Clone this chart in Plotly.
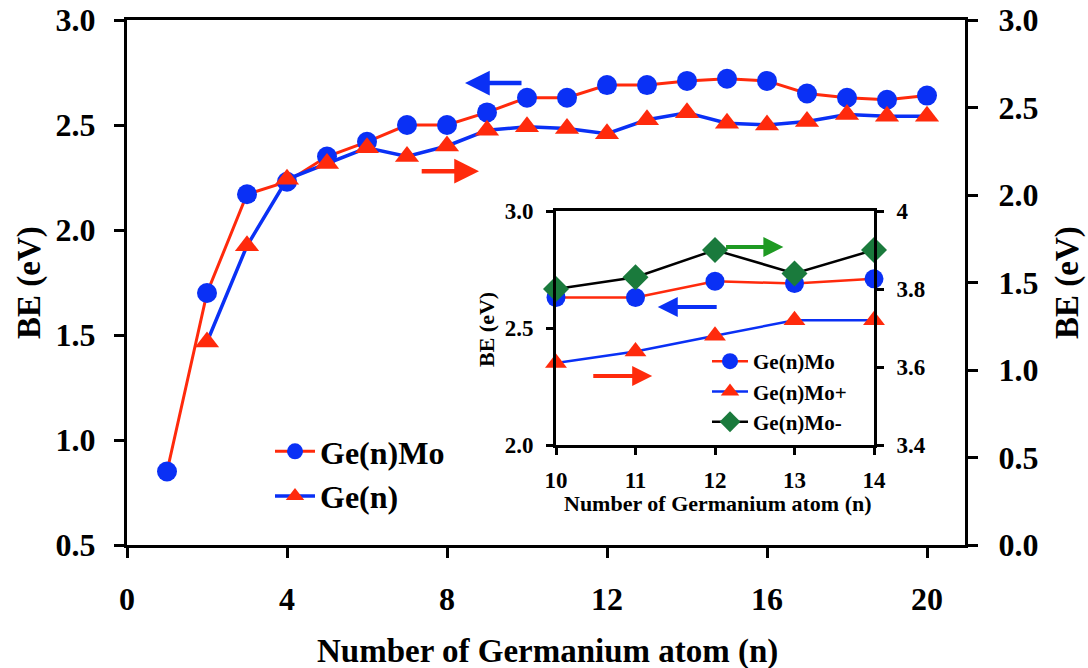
import plotly.graph_objects as go

# ---------------- data ----------------
n_main = [1, 2, 3, 4, 5, 6, 7, 8, 9, 10, 11, 12, 13, 14, 15, 16, 17, 18, 19, 20]
be_gen_mo = [0.85, 1.70, 2.17, 2.23, 2.35, 2.42, 2.50, 2.50, 2.56, 2.63,
             2.63, 2.69, 2.69, 2.71, 2.72, 2.71, 2.65, 2.63, 2.62, 2.64]
n_ge = [2, 3, 4, 5, 6, 7, 8, 9, 10, 11, 12, 13, 14, 15, 16, 17, 18, 19, 20]
be_gen = [1.16, 1.71, 2.09, 2.18, 2.27, 2.22, 2.28, 2.37, 2.39, 2.38,
          2.35, 2.43, 2.47, 2.41, 2.40, 2.42, 2.46, 2.45, 2.45]

n_inset = [10, 11, 12, 13, 14]
inset_gen_mo = [2.63, 2.63, 2.70, 2.69, 2.71]
inset_gen_mo_plus = [3.61, 3.64, 3.68, 3.72, 3.72]
inset_gen_mo_minus = [3.80, 3.83, 3.90, 3.84, 3.90]

left_ticks = [0.5, 1.0, 1.5, 2.0, 2.5, 3.0]
right_ticks = [0.0, 0.5, 1.0, 1.5, 2.0, 2.5, 3.0]
x_ticks = [0, 4, 8, 12, 16, 20]
inset_x_ticks = [10, 11, 12, 13, 14]
inset_left_ticks = [2.0, 2.5, 3.0]
inset_right_ticks = [3.4, 3.6, 3.8, 4.0]
inset_right_labels = ["3.4", "3.6", "3.8", "4"]

# ---------------- style ----------------
W, H = 1088, 668
BLUE = "#0a30f5"
RED = "#ff2a0c"
GREEN = "#1a7a3c"
ARROW_GREEN = "#1e9a22"
FONT = "Liberation Serif"


def px_x(p):
    return p / W


def px_y(p):
    return 1 - p / H


fig = go.Figure()

# main traces
fig.add_trace(go.Scatter(
    x=n_main, y=be_gen_mo, name="Ge(n)Mo", mode="lines+markers",
    line=dict(color=RED, width=3),
    marker=dict(symbol="circle", size=20, color=BLUE),
    xaxis="x", yaxis="y", legend="legend", legendgroup="a"))
fig.add_trace(go.Scatter(
    x=n_ge, y=be_gen, name="Ge(n)", mode="lines+markers",
    line=dict(color=BLUE, width=3.5),
    marker=dict(symbol="triangle-up", size=21, color=RED),
    xaxis="x", yaxis="y2", legend="legend", legendgroup="b"))

# inset traces
fig.add_trace(go.Scatter(
    x=n_inset, y=inset_gen_mo, name="Ge(n)Mo", mode="lines+markers",
    line=dict(color=RED, width=2.5),
    marker=dict(symbol="circle", size=19, color=BLUE), cliponaxis=False,
    xaxis="x2", yaxis="y3", legend="legend2", legendgroup="c"))
fig.add_trace(go.Scatter(
    x=n_inset, y=inset_gen_mo_plus, name="Ge(n)Mo+", mode="lines+markers",
    line=dict(color=BLUE, width=2.5),
    marker=dict(symbol="triangle-up", size=19, color=RED), cliponaxis=False,
    xaxis="x2", yaxis="y4", legend="legend2", legendgroup="d"))
fig.add_trace(go.Scatter(
    x=n_inset, y=inset_gen_mo_minus, name="Ge(n)Mo-", mode="lines+markers",
    line=dict(color="black", width=2.5),
    marker=dict(symbol="diamond", size=20, color=GREEN), cliponaxis=False,
    xaxis="x2", yaxis="y4", legend="legend2", legendgroup="e"))

axis_common = dict(showline=True, linecolor="black", linewidth=3,
                   ticks="outside", tickcolor="black", tickwidth=3,
                   showgrid=False, zeroline=False, automargin=False)

main_tick_font = dict(family=FONT, size=32, color="black", weight="bold")
inset_tick_font = dict(family=FONT, size=23, color="black", weight="bold")

fig.update_layout(
    width=W, height=H,
    margin=dict(l=0, r=0, t=0, b=0),
    paper_bgcolor="white", plot_bgcolor="white",
    font=dict(family=FONT, color="black", weight="bold"),
    showlegend=True,
    xaxis=dict(domain=[px_x(127), px_x(965)], range=[0, 20.95],
               tickvals=x_ticks, ticklen=10, mirror=True,
               tickfont=main_tick_font, ticklabelstandoff=14,
               anchor="y", **axis_common),
    yaxis=dict(domain=[px_y(545), px_y(20)], range=[0.5, 3.0],
               tickvals=left_ticks, tickformat=".1f", ticklen=10,
               tickfont=main_tick_font, ticklabelstandoff=12,
               anchor="x", **axis_common),
    yaxis2=dict(range=[0.0, 3.0], overlaying="y", side="right",
                tickvals=right_ticks, tickformat=".1f", ticklen=10,
                tickfont=main_tick_font, ticklabelstandoff=14,
                anchor="x", **axis_common),
    xaxis2=dict(domain=[px_x(556), px_x(874)], range=[10, 14],
                tickvals=inset_x_ticks, ticklen=7, mirror=True,
                tickfont=inset_tick_font, ticklabelstandoff=5,
                anchor="y3", **axis_common),
    yaxis3=dict(domain=[px_y(445), px_y(211)], range=[2.0, 3.0],
                tickvals=inset_left_ticks, tickformat=".1f", ticklen=7,
                tickfont=inset_tick_font, ticklabelstandoff=8,
                anchor="x2", **axis_common),
    yaxis4=dict(range=[3.4, 4.0], overlaying="y3", side="right",
                tickvals=inset_right_ticks, ticktext=inset_right_labels,
                ticklen=7, tickfont=inset_tick_font, ticklabelstandoff=8,
                anchor="x2", **axis_common),
    legend=dict(x=px_x(270), y=px_y(424), xanchor="left", yanchor="top",
                bgcolor="rgba(0,0,0,0)", borderwidth=0,
                font=dict(family=FONT, size=32, color="black", weight="bold"),
                itemwidth=40, tracegroupgap=10, traceorder="normal"),
    legend2=dict(x=px_x(707), y=px_y(341), xanchor="left", yanchor="top",
                 bgcolor="rgba(0,0,0,0)", borderwidth=0,
                 font=dict(family=FONT, size=21, color="black", weight="bold"),
                 itemwidth=36, tracegroupgap=0, traceorder="normal"),
)

# axis titles as annotations
title_font_main = dict(family=FONT, size=33, color="black", weight="bold")
title_font_inset = dict(family=FONT, size=22, color="black", weight="bold")
annotations = [
    dict(text="Number of Germanium atom (n)", xref="paper", yref="paper",
         x=px_x(547), y=px_y(651), showarrow=False, font=title_font_main,
         xanchor="center", yanchor="middle"),
    dict(text="BE (eV)", xref="paper", yref="paper", x=px_x(30), y=px_y(283),
         textangle=-90, showarrow=False, font=title_font_main,
         xanchor="center", yanchor="middle"),
    dict(text="BE (eV)", xref="paper", yref="paper", x=px_x(1068), y=px_y(283),
         textangle=-90, showarrow=False, font=title_font_main,
         xanchor="center", yanchor="middle"),
    dict(text="Number of Germanium atom (n)", xref="paper", yref="paper",
         x=px_x(718), y=px_y(504), showarrow=False, font=title_font_inset,
         xanchor="center", yanchor="middle"),
    dict(text="BE (eV)", xref="paper", yref="paper", x=px_x(486), y=px_y(330),
         textangle=-90, showarrow=False, font=title_font_inset,
         xanchor="center", yanchor="middle"),
]


def arrow(x_head, x_tail, y, xr, yr, color, width=4.5, size=1.1):
    return dict(text="", x=x_head, y=y, ax=x_tail, ay=y, xref=xr, yref=yr,
                axref=xr, ayref=yr, showarrow=True, arrowhead=2,
                arrowsize=size, arrowwidth=width, arrowcolor=color,
                standoff=0, startstandoff=0)


annotations += [
    arrow(8.45, 9.9, 2.70, "x", "y", BLUE),
    arrow(8.8, 7.33, 2.28, "x", "y", RED),
    arrow(12.86, 12.12, 2.846, "x2", "y3", ARROW_GREEN, width=4, size=1.0),
    arrow(11.28, 12.04, 2.59, "x2", "y3", BLUE, width=4, size=1.0),
    arrow(11.21, 10.45, 2.295, "x2", "y3", RED, width=4, size=1.0),
]
fig.update_layout(annotations=annotations)

fig.write_html("out.html",
               config={"displayModeBar": False},
               post_script="document.body.style.margin='0px';"
                           "document.body.style.overflow='hidden';")
